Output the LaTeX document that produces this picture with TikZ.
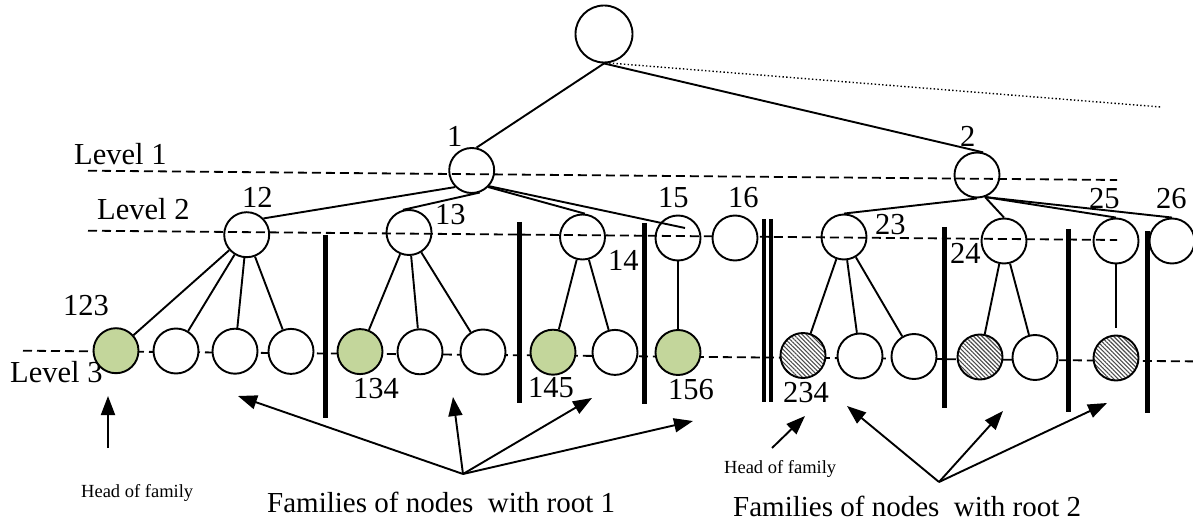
\documentclass[tikz,border=0pt]{standalone}
\usepackage{fontspec}
\setmainfont{Liberation Serif}
\usetikzlibrary{arrows.meta,patterns.meta}
\definecolor{headgreen}{RGB}{195,214,155}
\begin{document}
\begin{tikzpicture}[x=1pt,y=-1pt,
  every node/.style={inner sep=0pt},
  treenode/.style={circle,draw,line width=1.9pt,minimum size=45pt},
  leafnode/.style={treenode,fill=white},
  headnode/.style={treenode,fill=headgreen},
  hatchnode/.style={treenode,preaction={fill=white},
    pattern={Lines[angle=-45,distance=3pt,line width=1.1pt]},pattern color=black!70},
  link/.style={line width=1.9pt},
  levelline/.style={line width=1.8pt,dash pattern=on 9pt off 5pt},
  sepbar/.style={line width=5pt},
  pointer/.style={line width=1.9pt,-{Triangle[length=19pt,width=14pt]}},
  lbl/.style={anchor=base west,font=\fontsize{30.5}{36}\selectfont},
  headtext/.style={anchor=base west,font=\fontsize{18.5}{22}\selectfont},
  caption/.style={anchor=base west,font=\fontsize{29}{34}\selectfont}]
\useasboundingbox (0,0) rectangle (1193,521);

% level guide lines
\draw[levelline] (88,170.7) -- (1117,180);
\draw[levelline] (88,230.7) -- (1117,240);
\draw[levelline] (23,350.7) -- (1193,361.4);

\node[lbl] (lv1) at (74,165) {Level 1};
\node[lbl] (lv2) at (97,220) {Level 2};
\node[lbl] (lv3) at (10,382) {Level 3};

% root and level 1
\node[treenode,minimum size=57pt] (root) at (604,34) {};
\node[treenode] (n1) at (471.7,170.5) {};
\node[treenode] (n2) at (977,175) {};

% level 2
\node[treenode] (n12) at (246.7,234.7) {};
\node[treenode] (n13) at (409,232.5) {};
\node[treenode] (n14) at (582.5,237) {};
\node[treenode] (n15) at (678,238) {};
\node[leafnode] (n16) at (735,238) {};
\node[treenode] (n23) at (844,237) {};
\node[treenode] (n24) at (1004,241) {};
\node[treenode] (n25) at (1116,241) {};
\node[leafnode] (n26) at (1172,241) {};

% level 3
\node[headnode] (n123) at (116,350.7) {};
\node[leafnode] (n124) at (176,351) {};
\node[leafnode] (n125) at (235,351.2) {};
\node[leafnode] (n126) at (291,351.4) {};
\node[headnode] (n134) at (360,351.6) {};
\node[leafnode] (n135) at (420,351.8) {};
\node[leafnode] (n136) at (483,352) {};
\node[headnode] (n145) at (553,352.2) {};
\node[leafnode] (n146) at (615,352.4) {};
\node[headnode] (n156) at (678,352.5) {};
\node[hatchnode] (n234) at (803,355.5) {};
\node[leafnode] (n235) at (860,356) {};
\node[leafnode] (n236) at (914,356.5) {};
\node[hatchnode] (n245) at (980,357) {};
\node[leafnode] (n246) at (1035,357.5) {};
\node[hatchnode] (n256) at (1116,358) {};

% tree edges
\coordinate (c15) at (685,228);
\draw[link] (root.south) -- (n1.78);
\draw[link] (root.south) -- (n2.75);
\draw[line width=1.4pt,dash pattern=on 1.4pt off 2.3pt] (root.-80) -- (1161,107);
\draw[link] (n1.225) -- (n12.44);
\draw[link] (n1.290) -- (n13.105);
\draw[link] (n1.315) -- (n14.84);
\draw[link] (n1.318) -- (c15);
\draw[link] (n2.south) -- (n23.north);
\draw[link] (n2.290) -- (n24.north);
\draw[link] (n2.290) -- (n25.north);
\draw[link] (n2.290) -- (n26.north);
\foreach \c in {123,124,125,126} \draw[link] (n12) -- (n\c);
\foreach \c in {134,135,136} \draw[link] (n13) -- (n\c);
\foreach \c in {145,146} \draw[link] (n14) -- (n\c);
\draw[link] (n15) -- (n156);
\foreach \c in {234,235,236} \draw[link] (n23) -- (n\c);
\foreach \c in {245,246} \draw[link] (n24) -- (n\c);
\draw[link,shorten >=7pt] (n25) -- (n256);

% family separators
\draw[sepbar] (325,235) -- (325,418);
\draw[sepbar] (519,222) -- (519,403);
\draw[sepbar] (644,223) -- (644,404);
\draw[line width=4pt] (764,219) -- (764,402);
\draw[line width=4pt] (771,219) -- (771,402);
\draw[sepbar] (944,227) -- (944,408);
\draw[sepbar] (1068,229) -- (1068,412);
\draw[sepbar] (1147,231) -- (1147,413);

% node labels
\node[lbl] (t1) at (447,147) {1};
\node[lbl] (t2) at (960,147) {2};
\node[lbl] (t12) at (242,208) {12};
\node[lbl] (t13) at (435,225) {13};
\node[lbl] (t14) at (608,270) {14};
\node[lbl] (t15) at (658,208) {15};
\node[lbl] (t16) at (728,208) {16};
\node[lbl] (t23) at (875,235) {23};
\node[lbl] (t24) at (950,263) {24};
\node[lbl] (t25) at (1089,209) {25};
\node[lbl] (t26) at (1156,209) {26};
\node[lbl] (t123) at (63,315.5) {123};
\node[lbl] (t134) at (353,398) {134};
\node[lbl] (t145) at (528,397) {145};
\node[lbl] (t156) at (668,399) {156};
\node[lbl] (t234) at (783,402) {234};

% annotations
\node[headtext] (head1) at (81,497) {Head of family};
\node[headtext] (head2) at (724,473) {Head of family};
\node[caption] (fam1) at (267,512) {Families of nodes\ \ with root 1};
\node[caption] (fam2) at (733,516) {Families of nodes\ \ with root 2};

\coordinate (h1s) at (108,448);
\coordinate (h1e) at (108,396);
\coordinate (h2s) at (772,448);
\coordinate (h2e) at (805,416);
\coordinate (hub1) at (463,474);
\coordinate (hub2) at (939,482);
\coordinate (f1a) at (238,396);
\coordinate (f1b) at (453,397);
\coordinate (f1c) at (592,398);
\coordinate (f1d) at (693,421);
\coordinate (f2a) at (847,406);
\coordinate (f2b) at (1003,411);
\coordinate (f2c) at (1107,403);
\draw[pointer] (h1s) -- (h1e);
\draw[pointer] (h2s) -- (h2e);
\foreach \t in {f1a,f1b,f1c,f1d} \draw[pointer] (hub1) -- (\t);
\foreach \t in {f2a,f2b,f2c} \draw[pointer] (hub2) -- (\t);
\end{tikzpicture}
\end{document}
